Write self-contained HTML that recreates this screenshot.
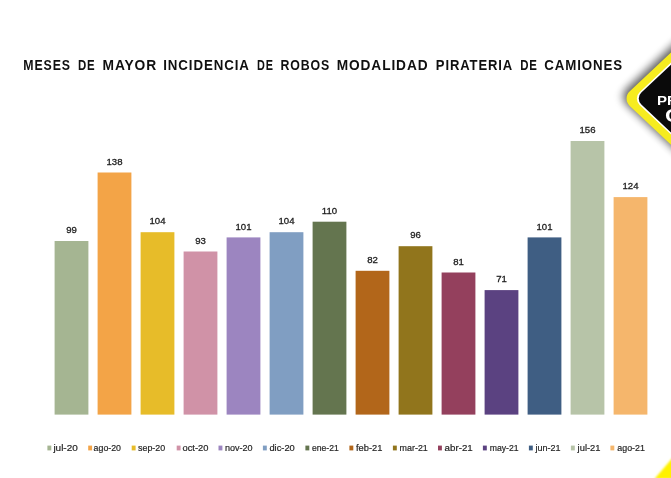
<!DOCTYPE html>
<html><head><meta charset="utf-8"><title>Meses de mayor incidencia</title>
<style>
html,body{margin:0;padding:0;background:#fff;}
body{width:671px;height:478px;overflow:hidden;position:relative;font-family:"Liberation Sans",sans-serif;}
svg{position:absolute;left:0;top:0;display:block;}
.t{font-family:"Liberation Sans",sans-serif;font-weight:bold;font-size:15.0px;fill:#101010;}
.v{font-family:"Liberation Sans",sans-serif;font-size:9.6px;fill:#222;stroke:#222;stroke-width:0.3;text-anchor:middle;}
.l{font-family:"Liberation Sans",sans-serif;font-size:9.4px;fill:#262626;stroke:#262626;stroke-width:0.2;}
.w{font-family:"Liberation Sans",sans-serif;font-weight:bold;fill:#fff;}
</style></head><body>
<svg width="671" height="478" viewBox="0 0 671 478">
<defs>
<filter id="sh" x="-30%" y="-30%" width="160%" height="160%"><feGaussianBlur stdDeviation="4.5"/></filter>
<filter id="b1" x="-30%" y="-30%" width="160%" height="160%"><feGaussianBlur stdDeviation="0.8"/></filter>
</defs>
<rect width="671" height="478" fill="#ffffff"/>
<text class="t" transform="translate(23.30 70.3) scale(0.823 1)" style="letter-spacing:1.09px">MESES</text>
<text class="t" transform="translate(77.90 70.3) scale(0.763 1)" style="letter-spacing:1.18px">DE</text>
<text class="t" transform="translate(102.50 70.3) scale(0.920 1)" style="letter-spacing:0.98px">MAYOR</text>
<text class="t" transform="translate(163.20 70.3) scale(0.887 1)" style="letter-spacing:1.02px">INCIDENCIA</text>
<text class="t" transform="translate(257.00 70.3) scale(0.724 1)" style="letter-spacing:1.24px">DE</text>
<text class="t" transform="translate(280.40 70.3) scale(0.822 1)" style="letter-spacing:1.09px">ROBOS</text>
<text class="t" transform="translate(336.70 70.3) scale(0.913 1)" style="letter-spacing:0.99px">MODALIDAD</text>
<text class="t" transform="translate(435.80 70.3) scale(0.870 1)" style="letter-spacing:1.03px">PIRATERIA</text>
<text class="t" transform="translate(520.20 70.3) scale(0.763 1)" style="letter-spacing:1.18px">DE</text>
<text class="t" transform="translate(544.30 70.3) scale(0.887 1)" style="letter-spacing:1.01px">CAMIONES</text>
<rect x="54.6" y="241.0" width="33.8" height="173.6" fill="#a5b592"/>
<text class="v" x="71.5" y="233.1">99</text>
<rect x="97.6" y="172.5" width="33.8" height="242.1" fill="#f3a447"/>
<text class="v" x="114.5" y="164.6">138</text>
<rect x="140.6" y="232.2" width="33.8" height="182.4" fill="#e7bc29"/>
<text class="v" x="157.5" y="224.3">104</text>
<rect x="183.6" y="251.5" width="33.8" height="163.1" fill="#d092a7"/>
<text class="v" x="200.5" y="243.6">93</text>
<rect x="226.6" y="237.4" width="33.8" height="177.2" fill="#9c85c0"/>
<text class="v" x="243.5" y="229.5">101</text>
<rect x="269.6" y="232.2" width="33.8" height="182.4" fill="#809ec2"/>
<text class="v" x="286.5" y="224.3">104</text>
<rect x="312.6" y="221.7" width="33.8" height="192.9" fill="#64754f"/>
<text class="v" x="329.5" y="213.8">110</text>
<rect x="355.6" y="270.8" width="33.8" height="143.8" fill="#b2661a"/>
<text class="v" x="372.5" y="262.9">82</text>
<rect x="398.6" y="246.2" width="33.8" height="168.4" fill="#91751c"/>
<text class="v" x="415.5" y="238.3">96</text>
<rect x="441.6" y="272.5" width="33.8" height="142.1" fill="#94405d"/>
<text class="v" x="458.5" y="264.6">81</text>
<rect x="484.6" y="290.1" width="33.8" height="124.5" fill="#5b4281"/>
<text class="v" x="501.5" y="282.2">71</text>
<rect x="527.6" y="237.4" width="33.8" height="177.2" fill="#3f5e83"/>
<text class="v" x="544.5" y="229.5">101</text>
<rect x="570.6" y="141.0" width="33.8" height="273.6" fill="#b7c4a8"/>
<text class="v" x="587.5" y="133.1">156</text>
<rect x="613.6" y="197.1" width="33.8" height="217.5" fill="#f5b66c"/>
<text class="v" x="630.5" y="189.2">124</text>
<rect x="47.4" y="445.6" width="3.9" height="4.8" fill="#a5b592"/><text class="l" x="53.4" y="450.9" textLength="24.4" lengthAdjust="spacingAndGlyphs">jul-20</text>
<rect x="88.2" y="445.6" width="3.9" height="4.8" fill="#f3a447"/><text class="l" x="93.6" y="450.9" textLength="27.4" lengthAdjust="spacingAndGlyphs">ago-20</text>
<rect x="131.7" y="445.6" width="3.9" height="4.8" fill="#e7bc29"/><text class="l" x="138.0" y="450.9" textLength="27.2" lengthAdjust="spacingAndGlyphs">sep-20</text>
<rect x="176.7" y="445.6" width="3.9" height="4.8" fill="#d092a7"/><text class="l" x="182.5" y="450.9" textLength="25.9" lengthAdjust="spacingAndGlyphs">oct-20</text>
<rect x="218.5" y="445.6" width="3.9" height="4.8" fill="#9c85c0"/><text class="l" x="225.0" y="450.9" textLength="27.6" lengthAdjust="spacingAndGlyphs">nov-20</text>
<rect x="262.9" y="445.6" width="3.9" height="4.8" fill="#809ec2"/><text class="l" x="269.4" y="450.9" textLength="25.4" lengthAdjust="spacingAndGlyphs">dic-20</text>
<rect x="305.4" y="445.6" width="3.9" height="4.8" fill="#64754f"/><text class="l" x="312.0" y="450.9" textLength="26.8" lengthAdjust="spacingAndGlyphs">ene-21</text>
<rect x="349.4" y="445.6" width="3.9" height="4.8" fill="#b2661a"/><text class="l" x="356.0" y="450.9" textLength="26.4" lengthAdjust="spacingAndGlyphs">feb-21</text>
<rect x="392.9" y="445.6" width="3.9" height="4.8" fill="#91751c"/><text class="l" x="399.6" y="450.9" textLength="28.2" lengthAdjust="spacingAndGlyphs">mar-21</text>
<rect x="438.0" y="445.6" width="3.9" height="4.8" fill="#94405d"/><text class="l" x="444.6" y="450.9" textLength="28.2" lengthAdjust="spacingAndGlyphs">abr-21</text>
<rect x="482.9" y="445.6" width="3.9" height="4.8" fill="#5b4281"/><text class="l" x="489.7" y="450.9" textLength="28.9" lengthAdjust="spacingAndGlyphs">may-21</text>
<rect x="528.9" y="445.6" width="3.9" height="4.8" fill="#3f5e83"/><text class="l" x="535.4" y="450.9" textLength="25.1" lengthAdjust="spacingAndGlyphs">jun-21</text>
<rect x="570.9" y="445.6" width="3.9" height="4.8" fill="#b7c4a8"/><text class="l" x="577.6" y="450.9" textLength="22.9" lengthAdjust="spacingAndGlyphs">jul-21</text>
<rect x="610.4" y="445.6" width="3.9" height="4.8" fill="#f5b66c"/><text class="l" x="617.3" y="450.9" textLength="27.6" lengthAdjust="spacingAndGlyphs">ago-21</text>
<rect x="650.29" y="27.89" width="141.42" height="141.42" rx="12" fill="#000" transform="translate(-2.5 -2) translate(721 98.6) scale(1 0.94) translate(-721 -98.6) rotate(45 721 98.6)" filter="url(#sh)" opacity="0.65"/>
<rect x="651.00" y="28.60" width="140.01" height="140.01" rx="11" fill="#f6ec1f" transform="translate(721 98.6) scale(1 0.94) translate(-721 -98.6) rotate(45 721 98.6)" />
<rect x="658.56" y="36.16" width="124.88" height="124.88" rx="10" fill="#ffffff" transform="translate(721 98.6) scale(1 0.94) translate(-721 -98.6) rotate(45 721 98.6)" />
<rect x="660.19" y="37.79" width="121.62" height="121.62" rx="9" fill="#0a0a0a" transform="translate(721 98.6) scale(1 0.94) translate(-721 -98.6) rotate(45 721 98.6)" />
<text class="w" transform="translate(656.9 104.5) scale(1.25 1)" font-size="12">PR</text>
<text class="w" transform="translate(665.0 122.2) scale(1.2 1)" font-size="19">C</text>
<polygon points="654.4,479 673,457.2 673,479" fill="#fff200" filter="url(#b1)"/>
</svg></body></html>
